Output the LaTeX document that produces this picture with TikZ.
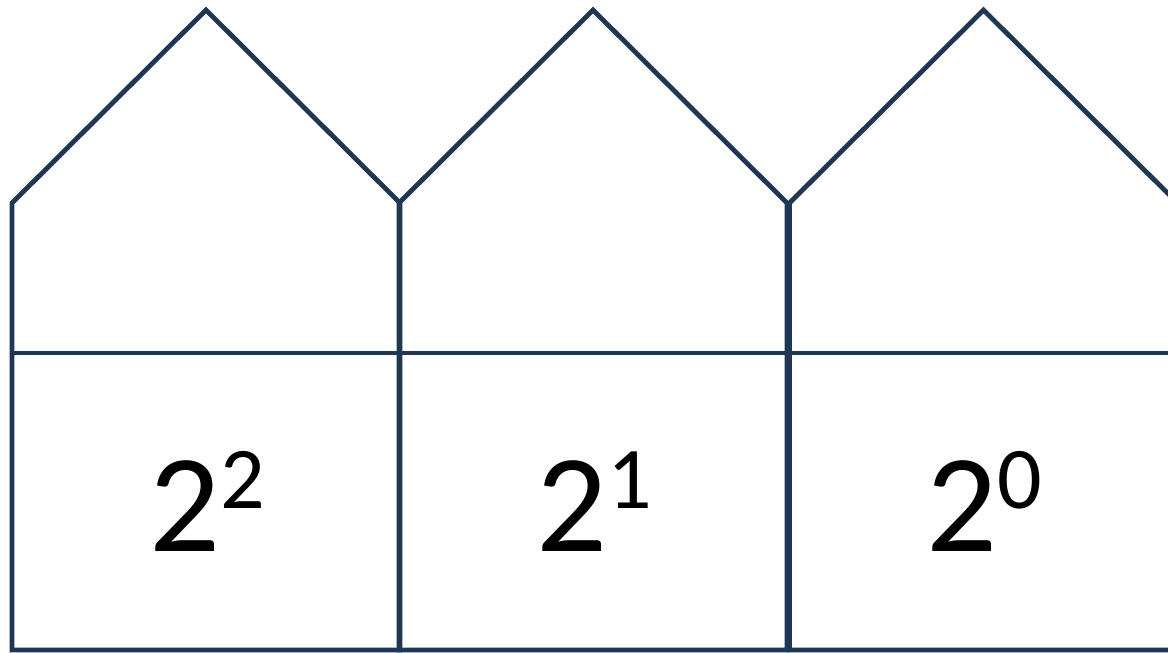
\documentclass[tikz,border=0pt]{standalone}
\usepackage{fontspec}
\setmainfont{Carlito}
\usepackage{tikz}
\definecolor{housenavy}{RGB}{31,55,82}
\newcommand{\powlabel}[1]{{\fontsize{140}{150}\selectfont 2\raisebox{43pt}{\fontsize{88}{95}\selectfont #1}}}

\begin{document}
\begin{tikzpicture}[x=1pt,y=-1pt]
\tikzset{wall/.style={draw=housenavy,line width=4.8pt,line join=miter}}
\useasboundingbox (0,0) rectangle (1168,653);
\clip (0,0) rectangle (1168,653);

% houses: left edge / exponent
\foreach \l/\e in {12/2,399/1,789.5/0}{
    \draw[wall] (\l,650) -- (\l,203) -- (\l+194,10) -- (\l+388,203) -- (\l+388,650) -- cycle;
    \draw[wall] (\l,353) -- (\l+388,353);
    \node[anchor=base,inner sep=0pt] (pow\e) at (\l+195,551) {\powlabel{\e}};
}
\end{tikzpicture}
\end{document}
